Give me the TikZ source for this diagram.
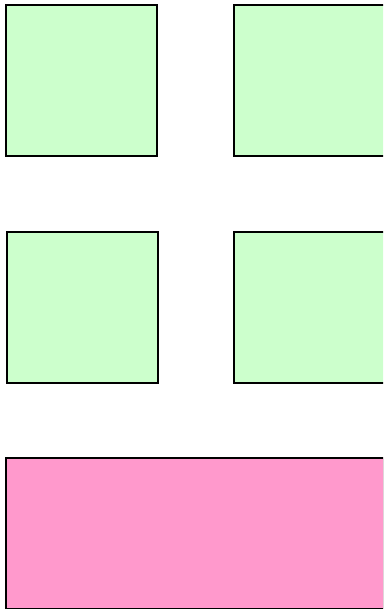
\documentclass[tikz,border=0pt]{standalone}
\definecolor{boxgreen}{RGB}{204,255,204}
\definecolor{boxpink}{RGB}{255,153,204}
\tikzset{
  greenbox/.style={draw=black, line width=1.6pt, fill=boxgreen, inner sep=0pt, outer sep=0pt, anchor=north west, minimum width=151pt, minimum height=151pt},
  pinkbox/.style={draw=black, line width=1.6pt, fill=boxpink, inner sep=0pt, outer sep=0pt, anchor=north west, minimum width=378pt, minimum height=151pt}
}
\begin{document}
\begin{tikzpicture}[x=1pt,y=-1pt]
\useasboundingbox[fill=white] (0,0) rectangle (383,609);
\clip (0,0) rectangle (383,609);
\node[greenbox] (a) at (6,5) {};
\node[greenbox] (b) at (234,5) {};
\node[greenbox] (c) at (7,232) {};
\node[greenbox] (d) at (234,232) {};
\node[pinkbox] (e) at (6,458) {};
\end{tikzpicture}
\end{document}
